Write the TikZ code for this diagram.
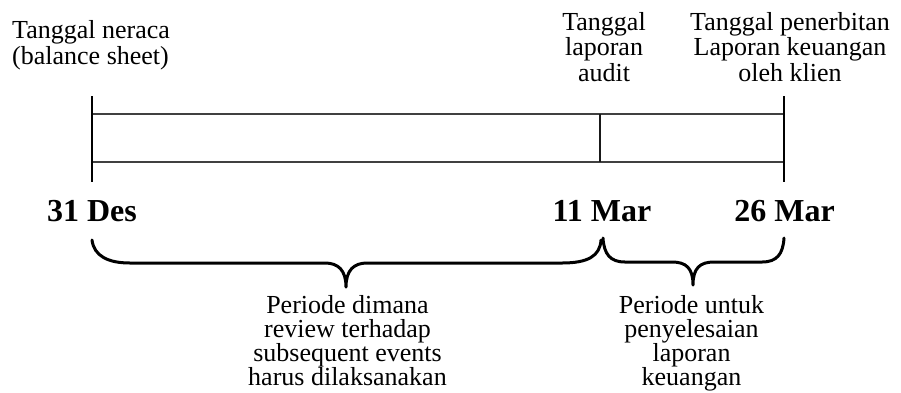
\documentclass[tikz,border=0pt]{standalone}
\usepackage{fontspec}
\setmainfont{Liberation Serif}
\begin{document}
\begin{tikzpicture}[x=1pt,y=-1pt,
  toplbl/.style={font=\fontsize{26}{25.5}\selectfont, inner sep=0pt, align=center, anchor=base},
  datelbl/.style={font=\fontsize{32}{32}\selectfont\bfseries, inner sep=0pt, anchor=base},
  botlbl/.style={font=\fontsize{26}{24}\selectfont, inner sep=0pt, align=center, anchor=base},
  tick/.style={line width=2pt, black},
  rail/.style={line width=2pt, black!75},
  bracepath/.style={line width=3pt, black, line cap=round, line join=round}]
\useasboundingbox (0,0) rectangle (901,392);
% coordinates
\coordinate (t0) at (92,96);
\coordinate (b0) at (92,182);
\coordinate (t2) at (784,96);
\coordinate (b2) at (784,182);
\coordinate (r1a) at (92,114);
\coordinate (r1b) at (784,114);
\coordinate (r2a) at (92,162);
\coordinate (r2b) at (784,162);
\coordinate (m1) at (600,114);
\coordinate (m2) at (600,162);
% timeline
\draw[rail] (r1a) -- (r1b);
\draw[rail] (r2a) -- (r2b);
\draw[tick] (t0) -- (b0);
\draw[tick] (t2) -- (b2);
\draw[line width=2pt, black!90] (m1) -- (m2);
% labels top (anchor base = baseline of last line)
\node[toplbl, align=left, anchor=base west] (lneraca) at (12,64) {Tanggal neraca\\(balance sheet)};
\node[toplbl] (laudit) at (604,81) {Tanggal\\laporan\\audit};
\node[toplbl] (lterbit) at (790,81) {Tanggal penerbitan\\Laporan keuangan\\oleh klien};
% dates
\node[datelbl] (d1) at (92,221) {31 Des};
\node[datelbl] (d2) at (602,221) {11 Mar};
\node[datelbl] (d3) at (784.5,221) {26 Mar};
% braces
\draw[bracepath] (92,240) .. controls (94,256) and (108,263) .. (130,263)
  -- (325,263) .. controls (338,263) and (346,270) .. (346,287)
  .. controls (346,270) and (354,263) .. (367,263)
  -- (562,263) .. controls (588,263) and (600,256) .. (601,240);
\draw[bracepath] (603,238) .. controls (604,254) and (610,262) .. (625,262)
  -- (672,262) .. controls (686,262) and (693,268) .. (693,285)
  .. controls (693,268) and (700,262) .. (714,262)
  -- (762,262) .. controls (777,262) and (783,254) .. (784,238);
% bottom labels
\node[botlbl] (p1) at (347.5,385) {Periode dimana\\review terhadap\\subsequent events\\harus dilaksanakan};
\node[botlbl] (p2) at (691.5,385) {Periode untuk\\penyelesaian\\laporan\\keuangan};
\end{tikzpicture}
\end{document}
